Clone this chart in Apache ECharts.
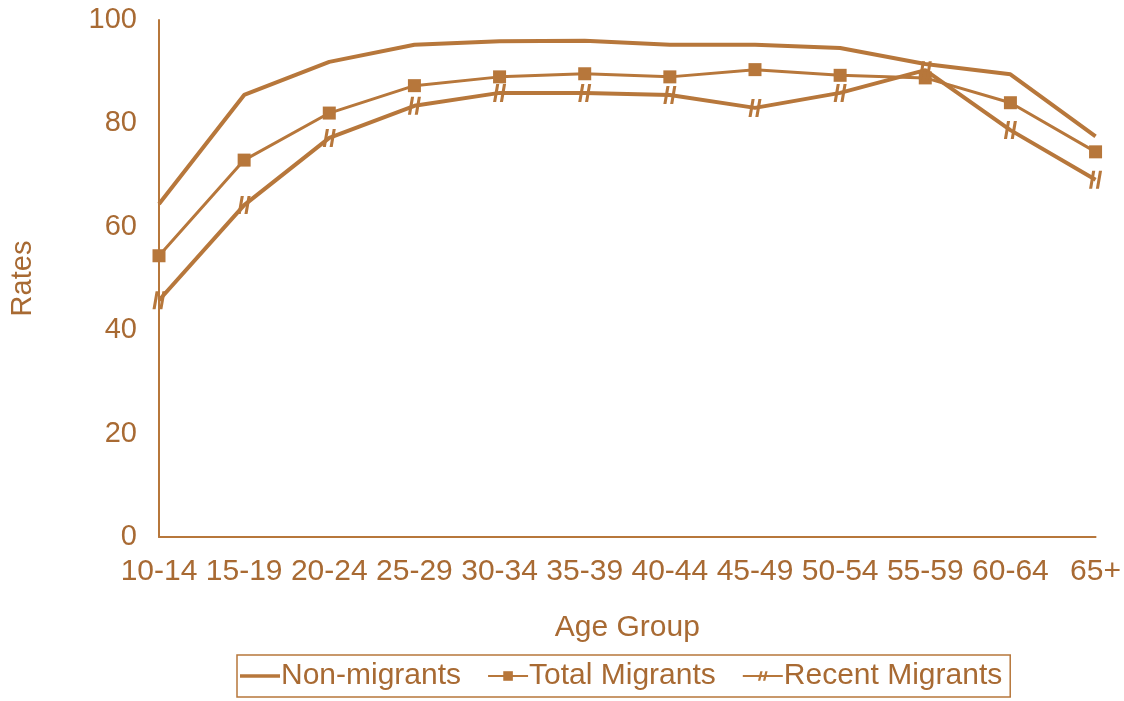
<!DOCTYPE html>
<html>
<head>
<meta charset="utf-8">
<script src="https://cdn.jsdelivr.net/npm/echarts@6/dist/echarts.min.js"></script>
<style>html,body{margin:0;padding:0;background:#fff}#c{width:1124px;height:701px}</style>
</head>
<body>
<div id="c"></div>
<script>
const categories = ['10-14','15-19','20-24','25-29','30-34','35-39','40-44','45-49','50-54','55-59','60-64','65+'];
const nonMigrants = [64.4, 85.5, 91.9, 95.2, 95.9, 96.0, 95.2, 95.2, 94.6, 91.5, 89.5, 77.5];
const totalMigrants = [54.4, 72.9, 82.0, 87.3, 89.0, 89.6, 89.0, 90.4, 89.3, 88.8, 84.0, 74.5];
const recentMigrants = [45.8, 64.2, 77.2, 83.4, 85.9, 85.9, 85.5, 83.0, 85.9, 90.3, 78.7, 69.1];
const yTicks = [0, 20, 40, 60, 80, 100];

const C = '#b7773b';
const T = '#a86a33';
const font = 'Liberation Sans, Arial, sans-serif';
const hashPath = 'path://M4.5,0 L7,0 L4.5,16 L2,16 Z M10,0 L12.5,0 L10,16 L7.5,16 Z';
const dashPath = 'path://M0,5 L30,5 L30,7.5 L0,7.5 Z';

const chart = echarts.init(document.getElementById('c'), null, {renderer: 'canvas'});
chart.setOption({
  animation: false,
  backgroundColor: '#fff',
  textStyle: {fontFamily: font, color: T},
  grid: {left: 155, right: 26, top: 20, bottom: 164, containLabel: false},
  legend: {
    left: 237, top: 655,
    padding: [6, 8, 6, 3],
    borderColor: C, borderWidth: 1.5,
    itemGap: 26, itemWidth: 40, itemHeight: 12,
    textStyle: {fontFamily: font, fontSize: 30, color: T, padding: [0, 0, 0, -4]},
    data: [
      {name: 'Non-migrants', icon: dashPath},
      'Total Migrants',
      'Recent Migrants'
    ]
  },
  xAxis: {
    type: 'category', data: categories, boundaryGap: false,
    name: 'Age Group', nameLocation: 'middle', nameGap: 76,
    nameTextStyle: {fontFamily: font, fontSize: 30, color: T, verticalAlign: 'top'},
    axisLine: {lineStyle: {color: C, width: 2}},
    axisTick: {show: false},
    axisLabel: {fontFamily: font, fontSize: 30, color: T, margin: 20, interval: 0},
    splitLine: {show: false}
  },
  yAxis: {
    type: 'value', min: yTicks[0], max: yTicks[yTicks.length - 1], interval: 20,
    name: 'Rates', nameLocation: 'middle', nameGap: 122, nameRotate: 90,
    nameTextStyle: {fontFamily: font, fontSize: 29, color: T},
    axisLine: {show: true, lineStyle: {color: C, width: 2}},
    axisTick: {show: false},
    axisLabel: {fontFamily: font, fontSize: 29, color: T, margin: 22},
    splitLine: {show: false}
  },
  series: [
    {name: 'Non-migrants', type: 'line', data: nonMigrants, symbol: 'none',
     lineStyle: {color: C, width: 4}, itemStyle: {color: C}},
    {name: 'Total Migrants', type: 'line', data: totalMigrants, symbol: 'rect', symbolSize: 13,
     lineStyle: {color: C, width: 3}, itemStyle: {color: C}},
    {name: 'Recent Migrants', type: 'line', data: recentMigrants, symbol: hashPath, symbolSize: [13, 18],
     lineStyle: {color: C, width: 4}, itemStyle: {color: C}}
  ]
});
</script>
</body>
</html>
